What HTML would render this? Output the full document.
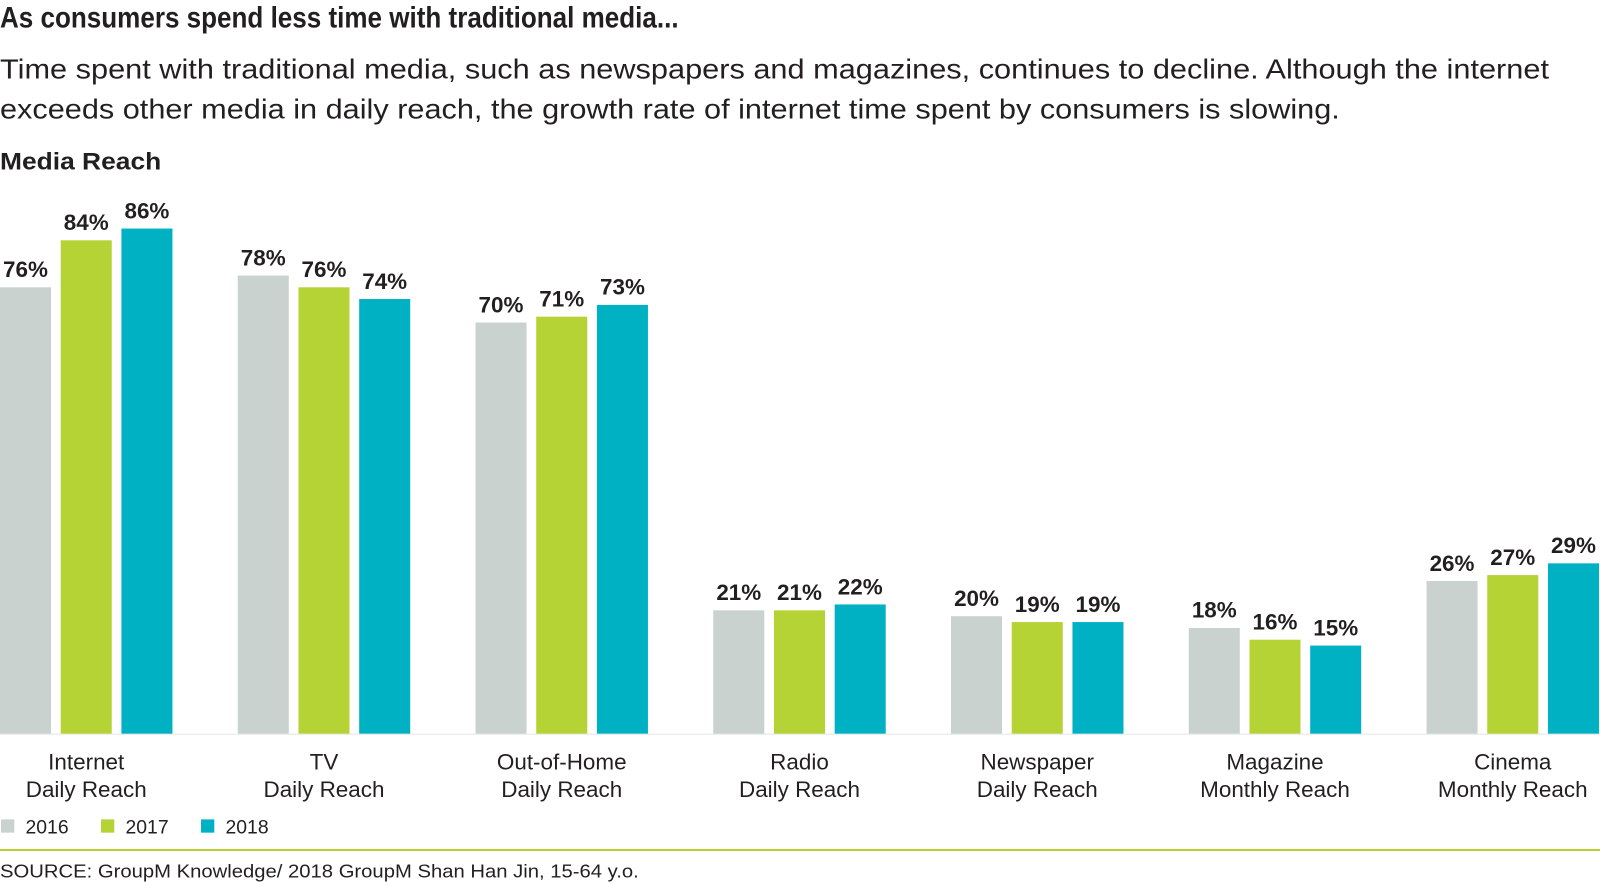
<!DOCTYPE html>
<html><head><meta charset="utf-8"><style>
html,body{margin:0;padding:0;background:#fff;width:1600px;height:882px;overflow:hidden}
svg text{font-family:"Liberation Sans",sans-serif;fill:#231f20}
</style></head><body>
<svg id="chart" width="1600" height="882" viewBox="0 0 1568 864.36">
<text x="0" y="27" font-size="29" font-weight="bold" textLength="665" lengthAdjust="spacingAndGlyphs">As consumers spend less time with traditional media...</text>
<text x="0" y="77" font-size="27" textLength="1518" lengthAdjust="spacingAndGlyphs">Time spent with traditional media, such as newspapers and magazines, continues to decline. Although the internet</text>
<text x="0" y="116" font-size="27" textLength="1313" lengthAdjust="spacingAndGlyphs">exceeds other media in daily reach, the growth rate of internet time spent by consumers is slowing.</text>
<text x="0" y="166" font-size="24" font-weight="bold" textLength="158" lengthAdjust="spacingAndGlyphs">Media Reach</text>
<g id="bars"></g>
<g>
<rect x="1" y="803" width="13" height="13" fill="#c9d2ce"/>
<text x="25" y="817" font-size="19">2016</text>
<rect x="99" y="803" width="13" height="13" fill="#b5d334"/>
<text x="123" y="817" font-size="19">2017</text>
<rect x="197" y="803" width="13" height="13" fill="#00b1c3"/>
<text x="221" y="817" font-size="19">2018</text>
</g>
<rect x="0" y="832" width="1600" height="2" fill="#b5d334"/>
<text x="0" y="860" font-size="18" textLength="626" lengthAdjust="spacingAndGlyphs">SOURCE: GroupM Knowledge/ 2018 GroupM Shan Han Jin, 15-64 y.o.</text>
</svg>
<script>
const categoriesLine1 = ["Internet","TV","Out-of-Home","Radio","Newspaper","Magazine","Cinema"];
const categoriesLine2 = ["Daily Reach","Daily Reach","Daily Reach","Daily Reach","Daily Reach","Monthly Reach","Monthly Reach"];
const series2016 = [76,78,70,21,20,18,26];
const series2017 = [84,76,71,21,19,16,27];
const series2018 = [86,74,73,22,19,15,29];
const seriesNames = ["2016","2017","2018"];

const NS="http://www.w3.org/2000/svg";
const g=document.getElementById('bars');
const baseY=719, pxPer=5.756, groupStep=233, barW=50, barStep=59.5;
const colors=["#c9d2ce","#b5d334","#00b1c3"];
const yScale=v=>baseY-v*pxPer;
const xScale=(i,j)=>i*groupStep+j*barStep;
const allSeries=[series2016,series2017,series2018];
function mk(tag,attrs){const e=document.createElementNS(NS,tag);for(const k in attrs)e.setAttribute(k,attrs[k]);return e;}
const base=mk('rect',{x:0,y:baseY,width:1600,height:1,fill:'#e6e6e6'});


g.appendChild(base);
categoriesLine1.forEach((c,i)=>{
  allSeries.forEach((s,j)=>{
    const x=xScale(i,j), y=yScale(s[i]);
    const r=mk('rect',{x:x,y:y,width:barW,height:baseY-y,fill:colors[j]});
    
    
    g.appendChild(r);
    const t=mk('text',{x:x+barW/2,y:y-10,'font-size':22,'font-weight':'bold','text-anchor':'middle'});
    t.textContent=s[i]+'%';
    
    
    g.appendChild(t);
  });
  const cx=xScale(i,0)+(2*barStep+barW)/2;
  const t1=mk('text',{x:cx,y:754,'font-size':22,'text-anchor':'middle'});
  t1.textContent=c;
  
  
  g.appendChild(t1);
  const t2=mk('text',{x:cx,y:781,'font-size':22,'text-anchor':'middle'});
  t2.textContent=categoriesLine2[i];
  
  
  g.appendChild(t2);
});
</script>
</body></html>
